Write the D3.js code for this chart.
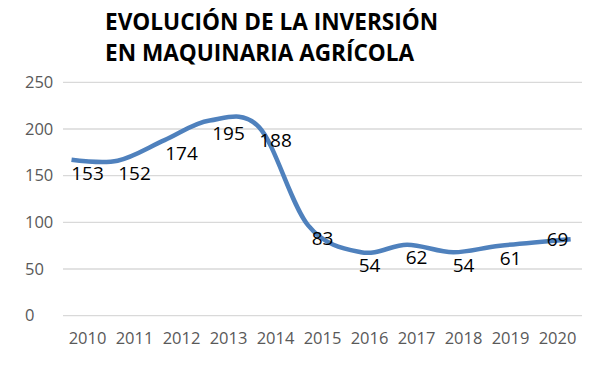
<!DOCTYPE html>
<html>
<head>
<meta charset="utf-8">
<script src="https://cdn.jsdelivr.net/npm/d3@7"></script>
<style>
  body { margin: 0; background: #fff; }
  svg { display: block; }
</style>
</head>
<body>
<svg id="chart" width="600" height="371"></svg>
<script>
const titleLines = ["EVOLUCIÓN DE LA INVERSIÓN", "EN MAQUINARIA AGRÍCOLA"]
const years = ["2010", "2011", "2012", "2013", "2014", "2015", "2016", "2017", "2018", "2019", "2020"]
// numbers printed as data labels
const labelValues = [153, 152, 174, 195, 188, 83, 54, 62, 54, 61, 69]
// the drawn smooth line does not sit on the labels: it is shifted up and left.
// its points, in year units (x) and axis units (y)
const lineYears = [2009.66, 2010.64, 2011.64, 2012.60, 2013.65, 2014.69, 2015.82, 2016.80, 2017.78, 2018.78, 2020.28]
const lineValues = [167, 166, 188, 209, 202, 97, 68, 76, 68, 75, 82]
const yTicks = [0, 50, 100, 150, 200, 250]

const font = "'Open Sans', sans-serif"

const svg = d3.select('#chart')

const y = d3.scaleLinear()
  .domain([0, 250])
  .range([315.7, 82.3])

const x = d3.scaleBand()
  .domain(years)
  .range([64, 581])

// same category centres, as a continuous year scale for the line
const xYear = d3.scaleLinear()
  .domain([+years[0], +years[years.length - 1]])
  .range([x(years[0]) + x.bandwidth() / 2, x(years[years.length - 1]) + x.bandwidth() / 2])

// gridlines
svg.append('g')
  .selectAll('line')
  .data(yTicks)
  .join('line')
    .attr('x1', 63)
    .attr('x2', 582)
    .attr('y1', d => y(d))
    .attr('y2', d => y(d))
    .attr('stroke', '#d9d9d9')
    .attr('stroke-width', 1.3)

// y tick labels (left aligned, like the original)
svg.append('g')
  .selectAll('text')
  .data(yTicks)
  .join('text')
    .attr('x', 25)
    .attr('y', d => y(d))
    .attr('dy', '0.35em')
    .attr('font-family', font)
    .attr('font-size', 16.5)
    .attr('fill', '#595959')
    .text(d => d)

// x tick labels
svg.append('g')
  .selectAll('text')
  .data(years)
  .join('text')
    .attr('x', d => x(d) + x.bandwidth() / 2)
    .attr('y', 338.5)
    .attr('dy', '0.35em')
    .attr('text-anchor', 'middle')
    .attr('font-family', font)
    .attr('font-size', 16.5)
    .attr('fill', '#595959')
    .text(d => d)

// line (Excel-like smoothing)
const line = d3.line()
  .x((d, i) => xYear(lineYears[i]))
  .y(d => y(d))
  .curve(d3.curveCardinal.tension(0))

svg.append('path')
  .datum(lineValues)
  .attr('d', line)
  .attr('fill', 'none')
  .attr('stroke', '#4f81bd')
  .attr('stroke-width', 4.5)
  .attr('stroke-linejoin', 'round')

// data labels, centred on their values; the last one was nudged up in the original
svg.append('g')
  .selectAll('text')
  .data(labelValues)
  .join('text')
    .attr('x', (d, i) => x(years[i]) + x.bandwidth() / 2)
    .attr('y', (d, i) => y(d) + (i === years.length - 1 ? -12 : 0))
    .attr('dy', '0.35em')
    .attr('text-anchor', 'middle')
    .attr('font-family', font)
    .attr('font-size', 19)
    .attr('fill', '#000')
    .text(d => d)

// title
svg.append('g')
  .selectAll('text')
  .data(titleLines)
  .join('text')
    .attr('x', 105)
    .attr('y', (d, i) => 29.5 + i * 31.5)
    .attr('font-family', font)
    .attr('font-size', 22.6)
    .attr('font-weight', 'bold')
    .attr('fill', '#000')
    .text(d => d)
</script>
</body>
</html>
